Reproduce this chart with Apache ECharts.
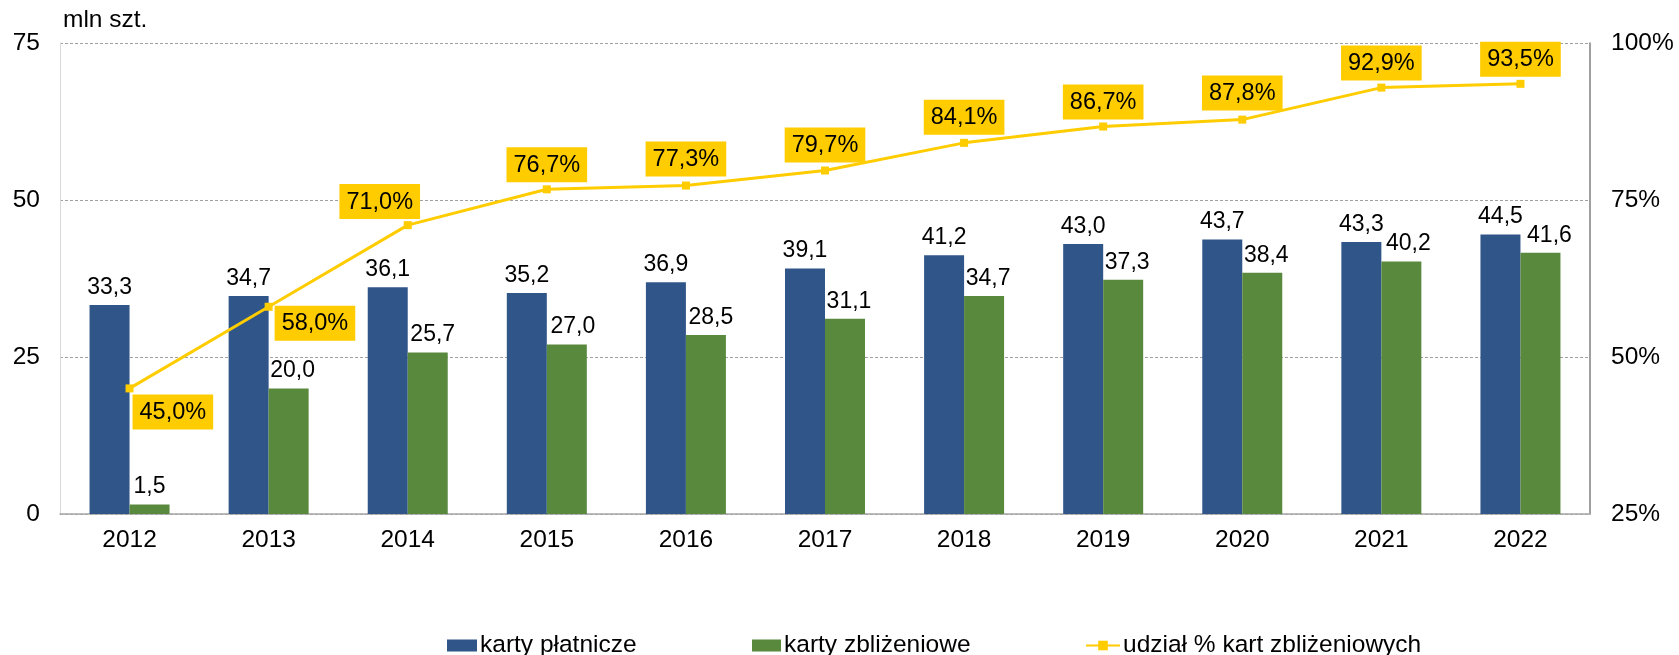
<!DOCTYPE html>
<html>
<head>
<meta charset="utf-8">
<script src="https://cdn.jsdelivr.net/npm/echarts@6/dist/echarts.min.js"></script>
<style>
html,body{margin:0;padding:0;background:#fff;}
#chart{width:1679px;height:655px;}
</style>
</head>
<body>
<div id="chart"></div>
<script>
const years = ['2012','2013','2014','2015','2016','2017','2018','2019','2020','2021','2022'];
const kartyPlatnicze = [33.3, 34.7, 36.1, 35.2, 36.9, 39.1, 41.2, 43.0, 43.7, 43.3, 44.5];
const kartyZblizeniowe = [1.5, 20.0, 25.7, 27.0, 28.5, 31.1, 34.7, 37.3, 38.4, 40.2, 41.6];
const udzialProc = [45.0, 58.0, 71.0, 76.7, 77.3, 79.7, 84.1, 86.7, 87.8, 92.9, 93.5];
const leftTicks = [0, 25, 50, 75];
const rightTicks = [25, 50, 75, 100];

const FONT = 'Liberation Sans, Arial, sans-serif';
const fmt = v => v.toFixed(1).replace('.', ',');

// label placement for the share line (style only)
const lineLabelStyle = [
  {position: [7, 10], align: 'left', verticalAlign: 'top'},
  {position: [10, 3], align: 'left', verticalAlign: 'top'},
  {position: [-24, -2], align: 'center', verticalAlign: 'bottom'},
  {position: 'top', distance: 3},
  {position: 'top', distance: 5},
  {position: 'top', distance: 4},
  {position: 'top', distance: 4},
  {position: 'top', distance: 3},
  {position: 'top', distance: 5},
  {position: 'top', distance: 3},
  {position: 'top', distance: 3}
];
// horizontal nudges of green bar labels (style only)
const greenLabelShift = [0, 4, 5, 6, 5, 4, 4, 4, 4, 7, 9];

const lineData = udzialProc.map((v, i) => ({value: v, label: lineLabelStyle[i]}));
const greenData = kartyZblizeniowe.map((v, i) => ({value: v, label: {offset: [greenLabelShift[i], 0]}}));

const chart = echarts.init(document.getElementById('chart'));
const legendCommon = {
  top: 633,
  padding: 0,
  itemGap: 0,
  textStyle: {fontFamily: FONT, fontSize: 24.5, color: '#000', padding: [0, 0, 0, -2]},
  itemHeight: 12
};
chart.setOption({
  animation: false,
  textStyle: {fontFamily: FONT},
  title: {
    text: 'mln szt.',
    left: 63, top: 8, padding: 0,
    textStyle: {fontFamily: FONT, fontSize: 24.5, fontWeight: 'normal', color: '#000'}
  },
  legend: [
    Object.assign({}, legendCommon, {left: 447, data: [{name: 'karty płatnicze', icon: 'rect'}], itemWidth: 30}),
    Object.assign({}, legendCommon, {left: 752, data: [{name: 'karty zbliżeniowe', icon: 'rect'}], itemWidth: 29}),
    Object.assign({}, legendCommon, {left: 1085, data: ['udział % kart zbliżeniowych'], itemWidth: 34})
  ],
  grid: {left: 60, right: 89, top: 43, bottom: 141, containLabel: false},
  xAxis: {
    type: 'category',
    data: years,
    axisLine: {lineStyle: {color: '#a6a6a6', width: 1.5}},
    axisTick: {show: false},
    axisLabel: {fontSize: 24.5, color: '#000', margin: 14, fontFamily: FONT}
  },
  yAxis: [
    {
      type: 'value', min: leftTicks[0], max: leftTicks[leftTicks.length - 1], interval: 25,
      axisLine: {show: true, lineStyle: {color: '#d9d9d9'}},
      axisTick: {show: false},
      splitLine: {lineStyle: {color: '#a0a0a0', type: [3, 2], width: 1}},
      axisLabel: {fontSize: 24.5, color: '#000', margin: 20, fontFamily: FONT}
    },
    {
      type: 'value', min: rightTicks[0], max: rightTicks[rightTicks.length - 1], interval: 25,
      position: 'right',
      axisLine: {show: true, lineStyle: {color: '#808080', width: 1.5}},
      axisTick: {show: false},
      splitLine: {show: false},
      axisLabel: {fontSize: 24.5, color: '#000', margin: 21, formatter: '{value}%', fontFamily: FONT}
    }
  ],
  series: [
    {
      name: 'karty płatnicze', type: 'bar', data: kartyPlatnicze,
      barWidth: 40, barGap: '0%',
      itemStyle: {color: '#2F5589'},
      label: {show: true, position: 'top', distance: 6, fontSize: 23, color: '#000', fontFamily: FONT,
        formatter: p => fmt(p.value)}
    },
    {
      name: 'karty zbliżeniowe', type: 'bar', data: greenData,
      barWidth: 40, barGap: '0%',
      itemStyle: {color: '#58893D'},
      label: {show: true, position: 'top', distance: 6, fontSize: 23, color: '#000', fontFamily: FONT,
        formatter: p => fmt(p.value)}
    },
    {
      name: 'udział % kart zbliżeniowych', type: 'line', yAxisIndex: 1, data: lineData,
      z: 5,
      symbol: 'rect', symbolSize: 8, showAllSymbol: true,
      lineStyle: {color: '#FFCC00', width: 3},
      itemStyle: {color: '#FFCC00'},
      label: {show: true, fontSize: 23.5, color: '#000', fontFamily: FONT,
        backgroundColor: '#FFCC00', padding: [6, 7, 5, 7],
        formatter: p => fmt(p.value) + '%'}
    }
  ]
});
</script>
</body>
</html>
